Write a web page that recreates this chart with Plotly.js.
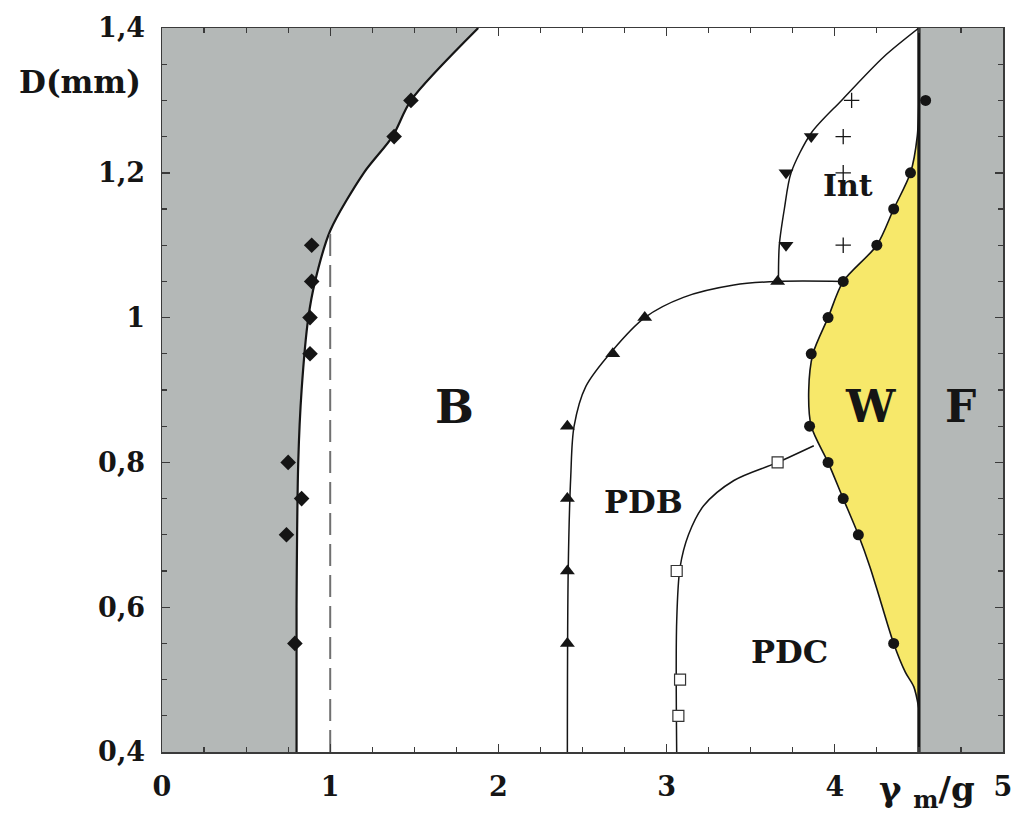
<!DOCTYPE html>
<html>
<head>
<meta charset="utf-8">
<script src="https://cdn.plot.ly/plotly-3.0.1.min.js"></script>
<style>
  html, body { margin: 0; padding: 0; background: #ffffff; }
  #chart { width: 1025px; height: 823px; }
</style>
</head>
<body>
<div id="chart"></div>
<script>
// Phase diagram: drop diameter D (mm) versus reduced forcing gamma_m / g.

// Bouncing threshold (B boundary); everything left of it is filled grey
const bCurveX = [0.80, 0.80, 0.81, 0.83, 0.87, 0.91, 1.00, 1.20, 1.37, 1.48, 1.88];
const bCurveY = [0.40, 0.60, 0.80, 0.90, 1.00, 1.05, 1.12, 1.20, 1.25, 1.30, 1.40];
const bPointsX = [0.75, 0.83, 0.74, 0.79, 0.89, 0.89, 0.88, 0.88, 1.38, 1.48];
const bPointsY = [0.80, 0.75, 0.70, 0.55, 1.10, 1.05, 1.00, 0.95, 1.25, 1.30];

// gamma_m/g = 1 reference line
const unityX = [1.0, 1.0];
const unityY = [0.40, 1.12];

// Period-doubled bouncing (PDB) threshold
const pdbCurveX = [2.41, 2.415, 2.43, 2.45, 2.52, 2.68, 2.87, 3.10, 3.40, 3.66, 4.05];
const pdbCurveY = [0.40, 0.65, 0.78, 0.85, 0.905, 0.955, 1.00, 1.028, 1.045, 1.05, 1.05];
const pdbPointsX = [2.41, 2.41, 2.41, 2.41, 2.68, 2.87, 3.66];
const pdbPointsY = [0.55, 0.65, 0.75, 0.85, 0.95, 1.00, 1.05];

// Intermittent regime (Int) boundary
const intCurveX = [3.665, 3.67, 3.70, 3.74, 3.86, 4.04, 4.29, 4.50];
const intCurveY = [1.05, 1.10, 1.15, 1.20, 1.255, 1.30, 1.36, 1.40];
const intPointsX = [3.71, 3.71, 3.86];
const intPointsY = [1.10, 1.20, 1.25];
const intCrossX = [4.05, 4.05, 4.05, 4.10];
const intCrossY = [1.10, 1.20, 1.25, 1.30];

// Walker (W) region boundary, filled yellow up to gamma_m/g = 4.5
const wCurveX = [4.50, 4.49, 4.45, 4.35, 4.25, 4.05, 3.96, 3.87, 3.845, 3.86, 3.96, 4.05, 4.14, 4.21, 4.27, 4.35, 4.42, 4.47, 4.50];
const wCurveY = [1.30, 1.25, 1.20, 1.15, 1.10, 1.05, 1.00, 0.95, 0.90, 0.85, 0.80, 0.75, 0.70, 0.655, 0.61, 0.55, 0.51, 0.49, 0.46];
const wPointsX = [4.54, 4.45, 4.35, 4.25, 4.05, 3.96, 3.86, 3.85, 3.96, 4.05, 4.14, 4.35];
const wPointsY = [1.30, 1.20, 1.15, 1.10, 1.05, 1.00, 0.95, 0.85, 0.80, 0.75, 0.70, 0.55];

// Period-doubled chaotic (PDC) boundary
const pdcCurveX = [3.06, 3.06, 3.08, 3.13, 3.22, 3.40, 3.66, 3.875];
const pdcCurveY = [0.40, 0.58, 0.655, 0.70, 0.74, 0.775, 0.80, 0.823];
const pdcPointsX = [3.06, 3.08, 3.07, 3.66];
const pdcPointsY = [0.65, 0.50, 0.45, 0.80];

// Faraday (F) band
const fBandX = [4.5, 5.0, 5.0, 4.5];
const fBandY = [0.4, 0.4, 1.4, 1.4];
const fEdgeX = [4.5, 4.5];
const fEdgeY = [0.4, 1.4];

// Region labels
const regionText = ['B', 'W', 'F', 'PDB', 'PDC', 'Int'];
const regionX = [1.74, 4.21, 4.75, 2.863, 3.73, 4.08];
const regionY = [0.877, 0.877, 0.877, 0.745, 0.538, 1.182];
const regionSize = [46, 44, 44, 32, 32, 30];

// Axis ticks
const xTickVals = [0, 1, 2, 3, 4, 5];
const xTickText = ['0', '1', '2', '3', '4', '5'];
const yTickVals = [0.4, 0.6, 0.8, 1.0, 1.2, 1.4];
const yTickText = ['0,4', '0,6', '0,8', '1', '1,2', '1,4'];

const INK = '#151515';
const GREY = '#b4b8b7';
const YELLOW = '#f7e86a';
const SERIF = 'DejaVu Serif, Liberation Serif, serif';

const traces = [
  {
    x: fBandX, y: fBandY, type: 'scatter', mode: 'lines',
    fill: 'toself', fillcolor: GREY, line: {width: 0, color: GREY}
  },
  {
    x: bCurveX, y: bCurveY, type: 'scatter', mode: 'lines',
    fill: 'tozerox', fillcolor: GREY,
    line: {color: INK, width: 2.2, shape: 'spline', smoothing: 0.8}
  },
  {
    x: wCurveX, y: wCurveY, type: 'scatter', mode: 'lines',
    fill: 'toself', fillcolor: YELLOW,
    line: {color: INK, width: 1.6, shape: 'spline', smoothing: 0.8}
  },
  {
    x: unityX, y: unityY, type: 'scatter', mode: 'lines',
    line: {color: '#707070', width: 2, dash: '22px,9px'}
  },
  {
    x: pdbCurveX, y: pdbCurveY, type: 'scatter', mode: 'lines',
    line: {color: INK, width: 1.5, shape: 'spline', smoothing: 0.9}
  },
  {
    x: intCurveX, y: intCurveY, type: 'scatter', mode: 'lines',
    line: {color: INK, width: 1.5, shape: 'spline', smoothing: 0.8}
  },
  {
    x: pdcCurveX, y: pdcCurveY, type: 'scatter', mode: 'lines',
    line: {color: INK, width: 1.5, shape: 'spline', smoothing: 0.9}
  },
  {
    x: fEdgeX, y: fEdgeY, type: 'scatter', mode: 'lines',
    line: {color: INK, width: 3.2}
  },
  {
    x: bPointsX, y: bPointsY, type: 'scatter', mode: 'markers',
    marker: {symbol: 'diamond', size: 12, color: INK}
  },
  {
    x: pdbPointsX, y: pdbPointsY, type: 'scatter', mode: 'markers',
    marker: {symbol: 'triangle-up', size: 13, color: INK}
  },
  {
    x: intPointsX, y: intPointsY, type: 'scatter', mode: 'markers',
    marker: {symbol: 'triangle-down', size: 13, color: INK}
  },
  {
    x: intCrossX, y: intCrossY, type: 'scatter', mode: 'markers',
    marker: {symbol: 'cross-thin', size: 11, line: {color: INK, width: 1.3}}
  },
  {
    x: wPointsX, y: wPointsY, type: 'scatter', mode: 'markers',
    marker: {symbol: 'circle', size: 11, color: INK}
  },
  {
    x: pdcPointsX, y: pdcPointsY, type: 'scatter', mode: 'markers',
    marker: {symbol: 'square', size: 11, color: '#ffffff', line: {color: '#333333', width: 1.2}}
  }
];

const annotations = regionText.map((t, i) => ({
  x: regionX[i], y: regionY[i], xref: 'x', yref: 'y',
  text: t, showarrow: false, xanchor: 'center', yanchor: 'middle',
  font: {family: SERIF, size: regionSize[i], color: INK, weight: 'bold'}
}));

annotations.push({
  x: -0.0975, y: 0.925, xref: 'paper', yref: 'paper',
  text: 'D(mm)', showarrow: false, xanchor: 'center', yanchor: 'middle',
  font: {family: SERIF, size: 31, color: INK, weight: 'bold'}
});
annotations.push({
  x: 0.91, y: -0.055, xref: 'paper', yref: 'paper',
  text: 'γ <sub>m</sub>/g', showarrow: false, xanchor: 'center', yanchor: 'middle',
  font: {family: SERIF, size: 34, color: INK, weight: 'bold'}
});

const axisCommon = {
  showgrid: false, zeroline: false, showline: true,
  linecolor: '#3a3a3a', linewidth: 1.5, mirror: 'ticks',
  ticks: 'inside', ticklen: 8, tickwidth: 1.4, tickcolor: '#3a3a3a',
  tickmode: 'array',
  tickfont: {family: SERIF, size: 27, color: INK, weight: 'bold'}
};

const layout = {
  width: 1025, height: 823, autosize: false,
  margin: {l: 162, r: 22, t: 28, b: 71},
  paper_bgcolor: '#ffffff', plot_bgcolor: '#ffffff',
  showlegend: false, hovermode: false,
  xaxis: Object.assign({}, axisCommon, {
    range: [0, 5], tickvals: xTickVals, ticktext: xTickText,
    ticklabelstandoff: 10,
    minor: {dtick: 0.25, ticks: 'inside', ticklen: 5, tickwidth: 1.2, tickcolor: '#3a3a3a'}
  }),
  yaxis: Object.assign({}, axisCommon, {
    range: [0.4, 1.4], tickvals: yTickVals, ticktext: yTickText,
    ticklabelstandoff: 10,
    minor: {dtick: 0.05, ticks: 'inside', ticklen: 5, tickwidth: 1.2, tickcolor: '#3a3a3a'}
  }),
  annotations: annotations
};

Plotly.newPlot('chart', traces, layout, {staticPlot: true, displayModeBar: false});
</script>
</body>
</html>
